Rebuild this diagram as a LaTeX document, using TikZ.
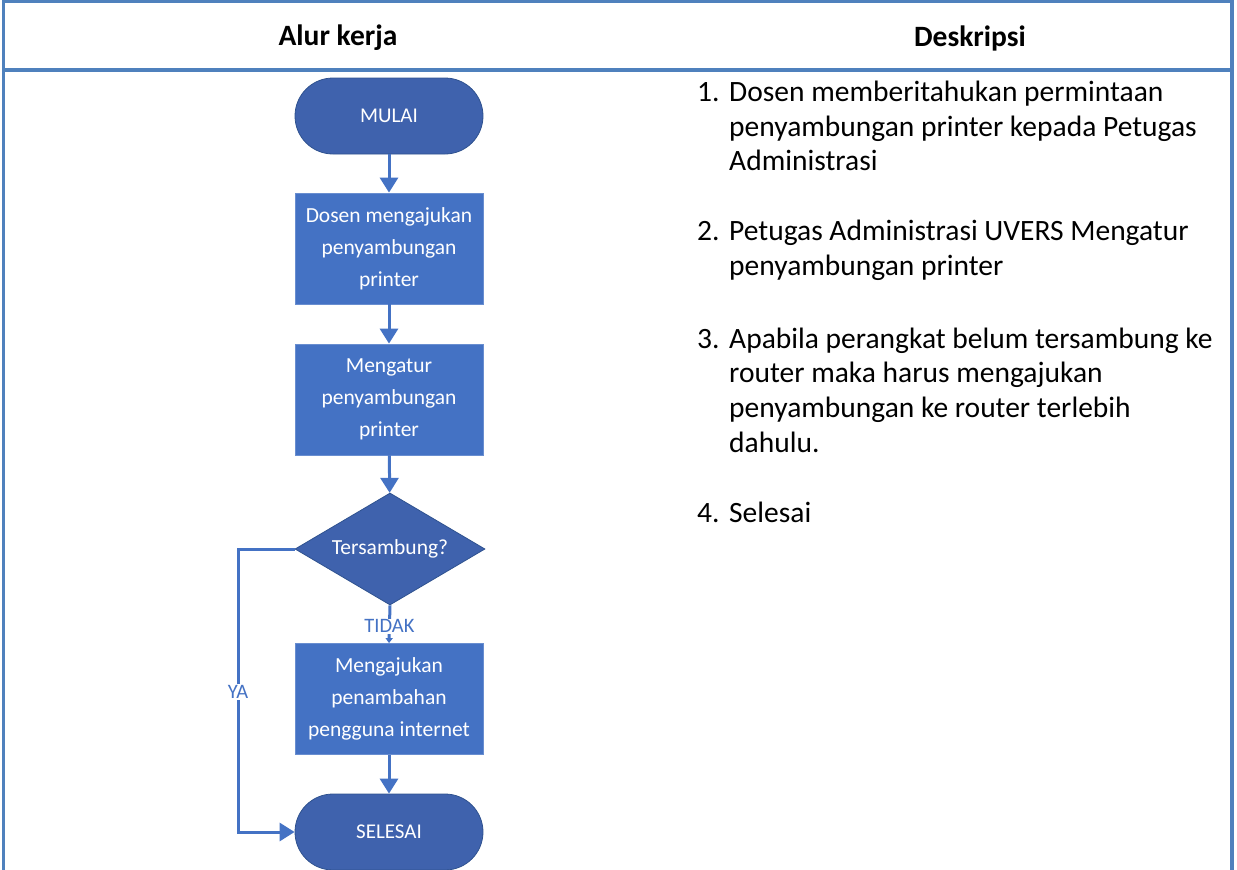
\documentclass[tikz,border=0pt]{standalone}
\usepackage{fontspec}
\setmainfont{Carlito}
\usetikzlibrary{arrows.meta,shapes.geometric}
\definecolor{tblue}{HTML}{4F81BD}
\definecolor{lblue}{HTML}{4472C4}
\definecolor{dblue}{HTML}{3F62AD}
\definecolor{eblue}{HTML}{2F528F}
\tikzset{
  x=1pt,y=-1pt,
  term/.style={draw=eblue,line width=0.8pt,fill=dblue,text=white,rounded corners=38pt,minimum width=188pt,minimum height=76pt,font=\fontsize{21}{24}\selectfont,inner sep=0pt},
  proc/.style={draw=lblue!80!white,line width=0.8pt,fill=lblue,text=white,minimum width=188pt,minimum height=111pt,font=\fontsize{21.5}{32}\selectfont,align=center,inner sep=0pt},
  dec/.style={draw=eblue,line width=0.8pt,fill=dblue,text=white,diamond,aspect=1.7,minimum width=190pt,minimum height=112pt,font=\fontsize{21.5}{24}\selectfont,inner sep=0pt},
  flow/.style={draw=lblue,line width=3pt,-{Triangle[width=18pt,length=15pt]}},
  lbl/.style={text=lblue,fill=white,font=\fontsize{20.5}{24}\selectfont,inner sep=1pt},
  head/.style={font=\fontsize{29.5}{34}\selectfont\bfseries},
  ln/.style={font=\fontsize{29.5}{35}\selectfont,anchor=base west,inner sep=0pt},
}
\begin{document}
\begin{tikzpicture}
\useasboundingbox (0,0) rectangle (1237,870);
% table
\draw[tblue,line width=3.2pt] (3.5,875) -- (3.5,1.5) -- (1232,1.5) -- (1232,875);
\draw[tblue,line width=3.2pt] (3.5,70) -- (1232,70);
\node[head] (h1) at (338,38) {Alur kerja};
\node[head] (h2) at (970,38) {Deskripsi};
% flowchart
\node[term] (start) at (389,116) {MULAI};
\node[proc] (p1) at (389,248.5) {Dosen mengajukan\\penyambungan\\printer};
\node[proc] (p2) at (389,399.5) {Mengatur\\penyambungan\\printer};
\node[dec] (d) at (390,549) {Tersambung?};
\node[proc] (p3) at (389,699) {Mengajukan\\penambahan\\pengguna internet};
\node[term] (end) at (389,832) {SELESAI};
\coordinate (c1) at (238,549);
\coordinate (c2) at (238,832);
\draw[flow] (start) -- (p1);
\draw[flow] (p1) -- (p2);
\draw[flow] (p2) -- (d);
\draw[draw=lblue,line width=3pt,-{Triangle[width=7pt,length=5pt]}] (d.south) -- node[lbl,pos=0.55] (tidak) {TIDAK} (p3.north);
\draw[flow] (p3) -- (end);
\draw[flow] (d.west) -- (c1) -- node[lbl,pos=0.505] (ya) {YA} (c2) -- (end.west);
% description
\node[ln] (n1) at (697,101) {1.};
\node[ln] (t1a) at (729,101) {Dosen memberitahukan permintaan};
\node[ln] (t1b) at (729,136) {penyambungan printer kepada Petugas};
\node[ln] (t1c) at (729,170) {Administrasi};
\node[ln] (n2) at (697,240) {2.};
\node[ln] (t2a) at (729,240) {Petugas Administrasi UVERS Mengatur};
\node[ln] (t2b) at (729,275) {penyambungan printer};
\node[ln] (n3) at (697,348) {3.};
\node[ln] (t3a) at (729,348) {Apabila perangkat belum tersambung ke};
\node[ln] (t3b) at (729,382) {router maka harus mengajukan};
\node[ln] (t3c) at (729,417) {penyambungan ke router terlebih};
\node[ln] (t3d) at (729,452) {dahulu.};
\node[ln] (n4) at (697,522) {4.};
\node[ln] (t4) at (729,522) {Selesai};
\end{tikzpicture}
\end{document}
